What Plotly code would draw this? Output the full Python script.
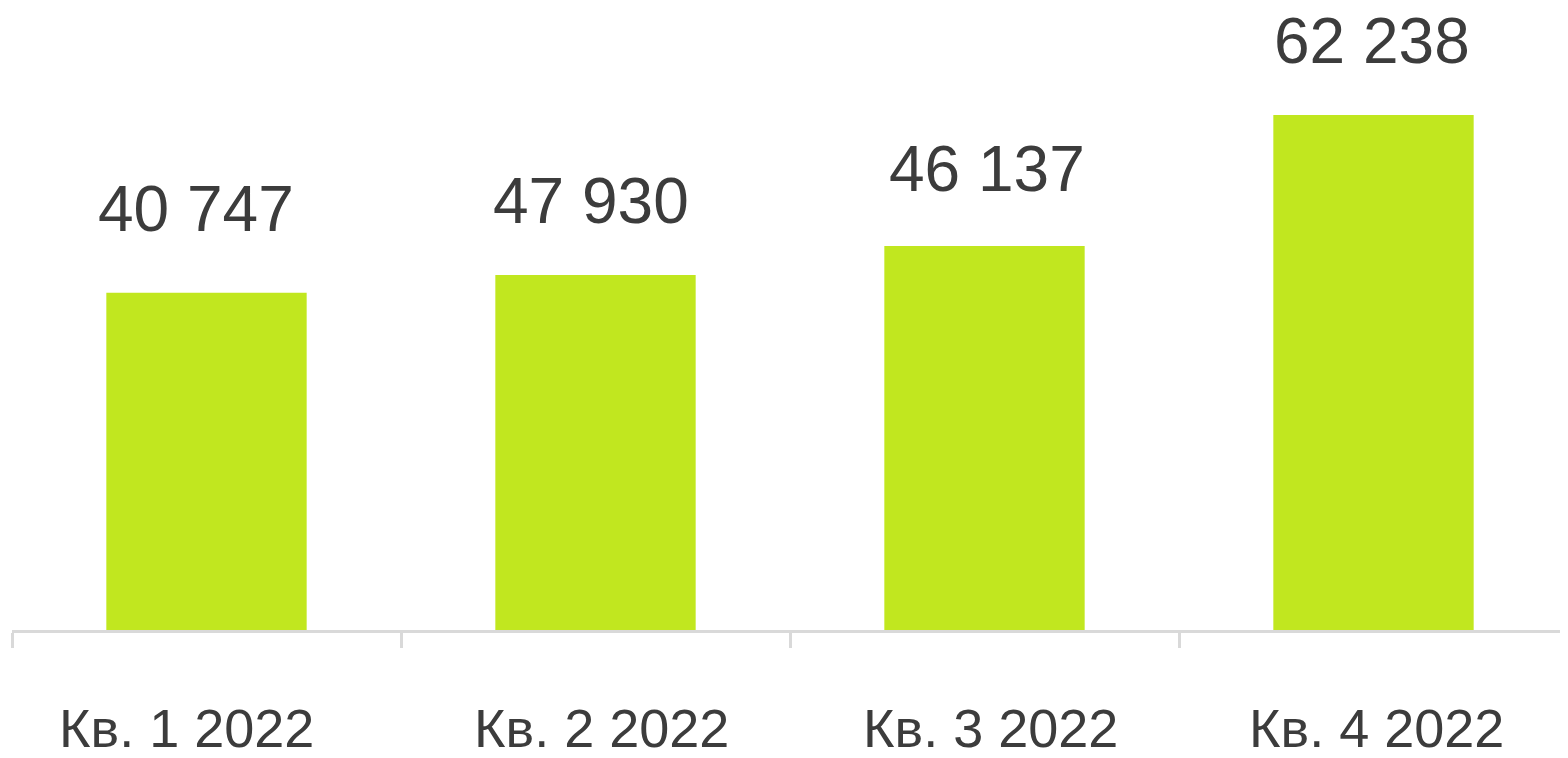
import plotly.graph_objects as go

categories = ["Кв. 1 2022", "Кв. 2 2022", "Кв. 3 2022", "Кв. 4 2022"]
bar_values = [40747, 42900, 46400, 62238]
value_labels = ["40 747", "47 930", "46 137", "62 238"]

# styling offsets (pixels) to mirror the reference's label placement
value_label_gap = [60, 50, 53, 50]
value_label_dx = [-11, -5, 2, -2]
cat_label_dx = [-20, 6, 6, 3]

BAR_COLOR = "#c1e71f"
TEXT_COLOR = "#3c3c3c"
AXIS_COLOR = "#d9d9d9"
FONT = "Liberation Sans, Arial, sans-serif"

fig = go.Figure()
fig.add_trace(go.Bar(
    x=categories, y=bar_values, marker=dict(color=BAR_COLOR, line=dict(width=0)),
    width=0.515, hoverinfo="skip",
))

for c, v, t, g, dx in zip(categories, bar_values, value_labels, value_label_gap, value_label_dx):
    fig.add_annotation(x=c, y=v, text=t, showarrow=False, yanchor="bottom",
                       yshift=g - 14, xshift=dx,
                       font=dict(size=64, color=TEXT_COLOR, family=FONT))

for c, dx in zip(categories, cat_label_dx):
    fig.add_annotation(x=c, y=0, yref="paper", text=c, showarrow=False, yanchor="middle",
                       yshift=-98, xshift=dx,
                       font=dict(size=54, color=TEXT_COLOR, family=FONT))

fig.update_layout(
    width=1560, height=750,
    margin=dict(l=4, r=0, t=0, b=128),
    paper_bgcolor="white", plot_bgcolor="white",
    showlegend=False,
    xaxis=dict(
        range=[-0.5, 3.5], showline=True, linecolor=AXIS_COLOR, linewidth=3,
        ticks="outside", tickson="boundaries", tickcolor=AXIS_COLOR, tickwidth=3, ticklen=15,
        showticklabels=False, showgrid=False, zeroline=False,
    ),
    yaxis=dict(range=[0, 75166], visible=False, showgrid=False, zeroline=False),
)

fig.write_html("out.html")
